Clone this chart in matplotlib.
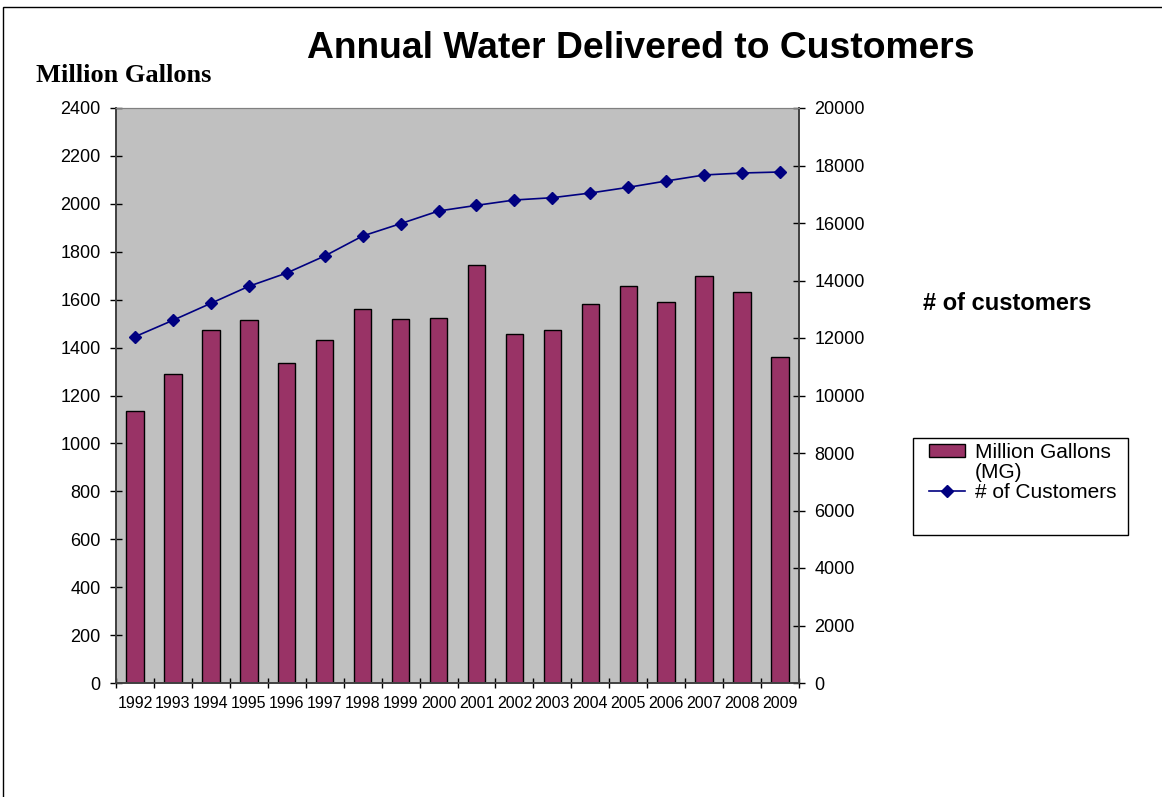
import matplotlib
import matplotlib.pyplot as plt
from matplotlib.patches import Rectangle
from matplotlib.lines import Line2D

matplotlib.use('Agg')

# data
years = ['1992', '1993', '1994', '1995', '1996', '1997', '1998', '1999', '2000',
         '2001', '2002', '2003', '2004', '2005', '2006', '2007', '2008', '2009']
million_gallons = [1135, 1290, 1472, 1515, 1336, 1430, 1561, 1519, 1523,
                   1745, 1458, 1473, 1580, 1656, 1591, 1697, 1632, 1361]
customers = [12045, 12616, 13206, 13798, 14261, 14852, 15548, 15977, 16417,
             16614, 16800, 16880, 17043, 17241, 17461, 17670, 17739, 17774]

left_ticks = list(range(0, 2401, 200))
right_ticks = list(range(0, 20001, 2000))

bar_color = '#993366'
line_color = '#000080'

plt.rcParams['font.family'] = ['Liberation Sans', 'DejaVu Sans']

fig = plt.figure(figsize=(11.62, 7.97), dpi=100)
ax = fig.add_axes([116 / 1162, 1 - 683 / 797, 683 / 1162, 575 / 797])
ax.set_facecolor('#C0C0C0')

x = list(range(len(years)))
ax.bar(x, million_gallons, width=0.46, color=bar_color, edgecolor='black', linewidth=1, zorder=2)
ax.set_xlim(-0.5, len(years) - 0.5)
ax.set_ylim(0, 2400)
ax.set_yticks(left_ticks)
ax.tick_params(axis='y', direction='inout', length=8, width=1, labelsize=13, pad=7)

# year labels at centres, tick marks at category edges
ax.set_xticks(x)
ax.set_xticklabels(years)
ax.tick_params(axis='x', which='major', length=0, labelsize=11.5, pad=9)
ax.set_xticks([i - 0.5 for i in range(len(years) + 1)], minor=True)
ax.tick_params(axis='x', which='minor', direction='inout', length=7, width=1)

ax2 = ax.twinx()
ax2.plot(x, customers, color=line_color, linewidth=1.2, marker='D', markersize=6.5,
         markerfacecolor=line_color, markeredgecolor=line_color, zorder=3)
ax2.set_ylim(0, 20000)
ax2.set_yticks(right_ticks)
ax2.tick_params(axis='y', direction='inout', length=8, width=1, labelsize=13, pad=7)

for a in (ax, ax2):
    a.spines['top'].set_color('#808080')
    for s in ('left', 'right', 'bottom'):
        a.spines[s].set_color('#404040')
        a.spines[s].set_linewidth(1.2)

# texts
fig.text(641 / 1162, 1 - 48 / 797, 'Annual Water Delivered to Customers',
         ha='center', va='center', fontsize=26.8, fontweight='bold')
fig.text(36 / 1162, 1 - 75 / 797, 'Million Gallons', ha='left', va='center',
         fontsize=19, fontweight='bold', family='Liberation Serif')
fig.text(923 / 1162, 1 - 304 / 797, '# of customers', ha='left', va='center',
         fontsize=17, fontweight='bold')

# legend with a taller box than its content; "(MG)" is its own row
fig.patches.append(Rectangle((913 / 1162, 1 - 535 / 797), 215 / 1162, 97 / 797,
                             transform=fig.transFigure, facecolor='white',
                             edgecolor='black', linewidth=1))
handles = [Rectangle((0, 0), 1, 1, facecolor=bar_color, edgecolor='black'),
           Rectangle((0, 0), 1, 1, fill=False, edgecolor='none'),
           Line2D([], [], color=line_color, marker='D', markersize=6.5, linewidth=1.2)]
leg = fig.legend(handles, ['Million Gallons', '(MG)', '# of Customers'],
                 loc='upper left', bbox_to_anchor=(929 / 1162, 1 - 443 / 797),
                 frameon=False, fontsize=15, handlelength=1.75, handleheight=0.55,
                 handletextpad=0.45, labelspacing=0.05, borderpad=0.0,
                 borderaxespad=0.0)

# outer border of the chart
fig.patches.append(Rectangle((3 / 1162, -0.01), 1.1, 1 - 7 / 797 + 0.01,
                             transform=fig.transFigure, fill=False,
                             edgecolor='black', linewidth=1))

fig.savefig('out.png', dpi=100)
plt.close(fig)
